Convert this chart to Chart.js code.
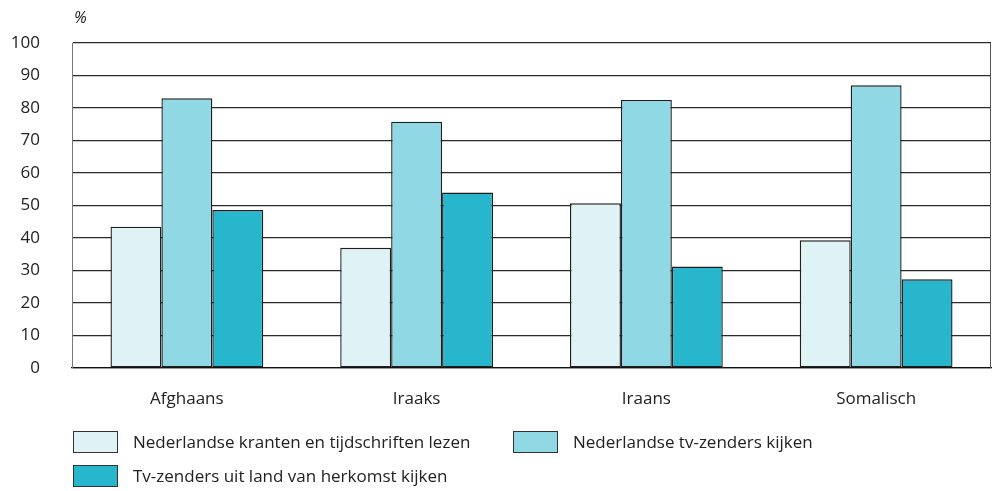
<!DOCTYPE html>
<html>
<head>
<meta charset="utf-8">
<script src="https://cdn.jsdelivr.net/npm/chart.js@4.4.0/dist/chart.umd.min.js"></script>
<style>
  html, body { margin: 0; padding: 0; background: #fff; }
  #wrap { position: relative; width: 992px; height: 491px; }
  #legend { position: absolute; left: 73px; top: 430px; width: 900px;
            font-family: "Open Sans", sans-serif; font-size: 17px; color: #222; }
  .item { position: absolute; display: flex; align-items: center; white-space: nowrap; }
  .box { width: 45px; height: 22px; border: 1px solid #333; margin-right: 15px; box-sizing: border-box; }
</style>
</head>
<body>
<div id="wrap">
  <canvas id="myChart" width="992" height="491"></canvas>
  <div id="legend"></div>
</div>
<script>
//data
const groups = ["Afghaans", "Iraaks", "Iraans", "Somalisch"];
const krantenLezen = [43.5, 37, 50.7, 39.3];
const nlTvKijken = [83, 75.8, 82.5, 87];
const herkomstTvKijken = [48.6, 54, 31.2, 27.3];
const seriesNames = [
  "Nederlandse kranten en tijdschriften lezen",
  "Nederlandse tv-zenders kijken",
  "Tv-zenders uit land van herkomst kijken"
];
const yTicks = [0, 10, 20, 30, 40, 50, 60, 70, 80, 90, 100];
const colors = ["#dff3f6", "#8fd8e4", "#27b6cc"];

const ctx = document.getElementById("myChart");
const fontFamily = '"Open Sans", sans-serif';

// "%" above the axis + the right-hand frame line
const extras = {
  id: "extras",
  afterDraw(chart) {
    const c = chart.ctx;
    const a = chart.chartArea;
    c.save();
    c.fillStyle = "#222";
    c.font = "italic 16px " + fontFamily;
    c.textAlign = "left";
    c.textBaseline = "middle";
    c.fillText("%", a.left + 2, a.top - 25);
    c.strokeStyle = "#555";
    c.lineWidth = 1;
    c.beginPath();
    c.moveTo(a.right - 0.5, a.top);
    c.lineTo(a.right - 0.5, a.bottom);
    c.stroke();
    c.restore();
  }
};

const myChart = new Chart(ctx, {
  type: "bar",
  data: {
    labels: groups,
    datasets: [krantenLezen, nlTvKijken, herkomstTvKijken].map((vals, i) => ({
      label: seriesNames[i],
      data: vals,
      backgroundColor: colors[i],
      borderColor: "#1e1e1e",
      borderWidth: 1.4,
      borderSkipped: false
    }))
  },
  options: {
    responsive: false,
    animation: false,
    layout: { padding: { top: 43, right: 1, bottom: 73, left: 0 } },
    plugins: { legend: { display: false }, tooltip: { enabled: false } },
    datasets: { bar: { barPercentage: 1, categoryPercentage: 0.665 } },
    scales: {
      x: {
        grid: { display: false, drawTicks: false },
        border: { color: "#111", width: 1.3 },
        ticks: { color: "#222", font: { family: fontFamily, size: 17 }, padding: 21 },
        afterFit: (scale) => { scale.height = 50; }
      },
      y: {
        min: 0,
        max: 100,
        afterBuildTicks: (scale) => { scale.ticks = yTicks.map(v => ({ value: v })); },
        grid: { color: "#2a2a2a", lineWidth: 1.2, drawTicks: false },
        border: { color: "#777", width: 1 },
        ticks: { color: "#222", font: { family: fontFamily, size: 17 }, padding: 32 },
        afterFit: (scale) => { scale.width = 72; }
      }
    }
  },
  plugins: [extras]
});

// legend below the chart
const legend = document.getElementById("legend");
const spots = [[0, 0], [440, 0], [0, 34]];
myChart.data.datasets.forEach((ds, i) => {
  const item = document.createElement("div");
  item.className = "item";
  item.style.left = spots[i][0] + "px";
  item.style.top = spots[i][1] + "px";
  item.innerHTML = `<span class="box" style="background:${ds.backgroundColor}"></span><span>${ds.label}</span>`;
  legend.appendChild(item);
});
</script>
</body>
</html>
